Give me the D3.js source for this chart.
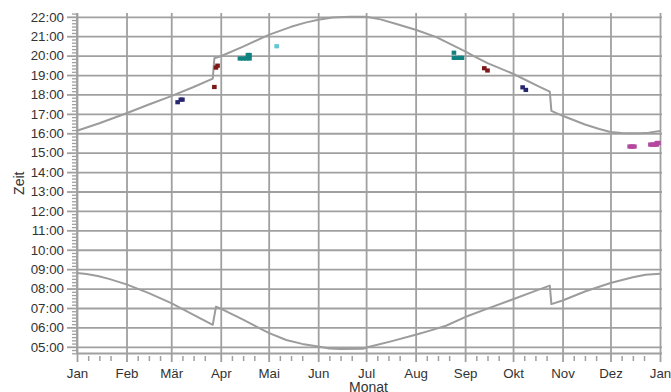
<!DOCTYPE html>
<html><head><meta charset="utf-8">
<script src="https://cdn.jsdelivr.net/npm/d3@7"></script>
<style>
body{margin:0;background:#fff;}
svg{display:block;}
text{font-family:"Liberation Sans",Arial,sans-serif;fill:#333;}
</style>
</head><body>
<svg id="chart" width="671" height="392"></svg>
<script>
// ---------- data ----------
const monthLabels = ["Jan","Feb","Mär","Apr","Mai","Jun","Jul","Aug","Sep","Okt","Nov","Dez","Jan"];
const hourTicks = [5,6,7,8,9,10,11,12,13,14,15,16,17,18,19,20,21,22];

const sunsetDates = ["2023-01-01","2023-01-15","2023-02-01","2023-02-15","2023-03-01","2023-03-15","2023-03-27","2023-03-28",
  "2023-04-01","2023-04-15","2023-05-01","2023-05-15","2023-05-24","2023-06-01","2023-06-10","2023-06-21","2023-07-01","2023-07-10",
  "2023-07-20","2023-08-01","2023-08-14","2023-09-01","2023-09-07","2023-09-15","2023-10-01","2023-10-17","2023-10-24",
  "2023-10-25","2023-11-01","2023-11-15","2023-11-24","2023-12-01","2023-12-08","2023-12-13","2023-12-20","2023-12-25","2024-01-01"];
const sunsetTimes = ["16:08","16:31","17:02","17:29","17:55","18:23","18:49","19:52",
  "19:58","20:28","21:04","21:29","21:42","21:51","21:58","22:00","22:00","21:52",
  "21:38","21:20","20:57","20:13","19:57","19:37","19:04","18:25","18:09",
  "17:09","16:54","16:27","16:13","16:04","16:01","16:00","16:00","16:02","16:07"];

const sunriseDates = ["2023-01-01","2023-01-07","2023-01-14","2023-01-21","2023-02-01","2023-02-15","2023-03-01","2023-03-15",
  "2023-03-27","2023-03-29","2023-04-01","2023-04-15","2023-05-01","2023-05-12","2023-05-22","2023-06-01","2023-06-08",
  "2023-06-15","2023-06-29","2023-07-03","2023-07-16","2023-08-01","2023-08-10","2023-08-20","2023-09-01","2023-09-15",
  "2023-10-01","2023-10-15","2023-10-24","2023-10-25","2023-11-01","2023-11-15","2023-12-01","2023-12-15","2023-12-23","2024-01-01"];
const sunriseTimes = ["08:48","08:45","08:39","08:30","08:13","07:46","07:15","06:39",
  "06:08","07:04","06:58","06:24","05:43","05:21","05:09","05:01","04:55",
  "04:53","04:54","05:00","05:16","05:37","05:50","06:05","06:32","06:58",
  "07:27","07:53","08:09","07:12","07:23","07:51","08:17","08:35","08:43","08:46"];

const navyDates = ["2023-03-05","2023-03-07","2023-03-08","2023-10-07","2023-10-09"];
const navyTimes = ["17:36","17:44","17:44","18:22","18:14"];
const redDates  = ["2023-03-28","2023-03-29","2023-03-30","2023-09-13","2023-09-15"];
const redTimes  = ["18:23","19:23","19:29","19:21","19:14"];
const tealDates = ["2023-04-13","2023-04-15","2023-04-17","2023-04-19","2023-04-18","2023-04-19",
                   "2023-08-25","2023-08-27","2023-08-29","2023-08-30","2023-08-25"];
const tealTimes = ["19:51","19:51","19:51","19:51","20:02","20:02",
                   "19:53","19:53","19:53","19:53","20:09"];
const lightBlueDates = ["2023-05-06"];
const lightBlueTimes = ["20:29"];
const magentaDates = ["2023-12-13","2023-12-14","2023-12-15","2023-12-16",
                      "2023-12-26","2023-12-27","2023-12-28","2023-12-29","2023-12-30","2023-12-30","2023-12-31"];
const magentaTimes = ["15:19","15:19","15:19","15:19",
                      "15:25","15:25","15:25","15:25","15:25","15:30","15:30"];

// ---------- helpers ----------
const parseDate = d3.timeParse("%Y-%m-%d");
const toHours = s => { const [h, m] = s.split(":").map(Number); return h + m / 60; };
const zip = (ds, ts) => ds.map((d, i) => ({date: parseDate(d), t: toHours(ts[i])}));

const svg = d3.select("#chart");
const gray = "#a0a0a0";
const sw = 1.8;

const x = d3.scaleTime().domain([new Date(2023,0,1), new Date(2024,0,1)]).range([77, 660]);
const y = d3.scaleLinear().domain([5, 22]).range([346.8, 16.8]);

const xAxisY = 353.5;
const yTop = y(22.2);
const gridRight = 662;

const monthStarts = d3.timeMonth.range(new Date(2023,0,1), new Date(2024,0,2));

// horizontal grid
svg.append("g").attr("transform", "translate(77,0)")
  .call(d3.axisLeft(y).tickValues(hourTicks).tickSize(-(gridRight - 77)).tickFormat(""))
  .call(g => g.select(".domain").remove())
  .call(g => g.selectAll("line").attr("stroke", gray).attr("stroke-width", sw));

// vertical grid (month lines, extending into the major ticks)
svg.append("g").attr("transform", `translate(0,${xAxisY})`)
  .call(d3.axisBottom(x).tickValues(monthStarts).tickSize(8.5).tickPadding(6.8)
        .tickFormat((d, i) => monthLabels[i]))
  .call(g => g.select(".domain").remove())
  .call(g => g.selectAll("line").attr("stroke", gray).attr("stroke-width", sw)
        .attr("y1", yTop - xAxisY))
  .call(g => g.selectAll("text").attr("font-size", 13.3).attr("fill", "#333")
        .attr("font-family", "Liberation Sans, Arial, sans-serif"));

// x minor ticks (8th, 15th, 22nd)
const minorDays = d3.timeDay.range(new Date(2023,0,1), new Date(2024,0,1))
  .filter(d => [8, 15, 22].includes(d.getDate()));
svg.append("g").attr("transform", `translate(0,${xAxisY + 2.5})`)
  .call(d3.axisBottom(x).tickValues(minorDays).tickSize(5).tickFormat(""))
  .call(g => g.select(".domain").remove())
  .call(g => g.selectAll("line").attr("stroke", gray).attr("stroke-width", 1.5));

// x axis line
svg.append("line").attr("x1", x.range()[0]).attr("x2", gridRight)
  .attr("y1", xAxisY).attr("y2", xAxisY).attr("stroke", gray).attr("stroke-width", sw);

// y minor ticks every 10 minutes
const minorTimes = d3.range(4 + 40/60, 22.2, 1/6).filter(v => Math.abs(v - Math.round(v)) > 0.01);
svg.append("g").attr("transform", "translate(77,0)")
  .call(d3.axisLeft(y).tickValues(minorTimes).tickSize(5).tickFormat(""))
  .call(g => g.select(".domain").remove())
  .call(g => g.selectAll("line").attr("stroke", gray).attr("stroke-width", 1.3));

// y major ticks + labels
svg.append("g").attr("transform", "translate(77,0)")
  .call(d3.axisLeft(y).tickValues(hourTicks).tickSize(10).tickPadding(3)
        .tickFormat(h => d3.format("02")(h) + ":00"))
  .call(g => g.select(".domain").remove())
  .call(g => g.selectAll("line").attr("stroke", gray).attr("stroke-width", sw))
  .call(g => g.selectAll("text").attr("font-size", 13.3).attr("fill", "#333")
        .attr("font-family", "Liberation Sans, Arial, sans-serif"));

// y axis line
svg.append("line").attr("x1", 77).attr("x2", 77)
  .attr("y1", yTop).attr("y2", xAxisY).attr("stroke", gray).attr("stroke-width", sw);

// curves
const line = d3.line().x(d => x(d.date)).y(d => y(d.t)).curve(d3.curveLinear);
[zip(sunsetDates, sunsetTimes), zip(sunriseDates, sunriseTimes)].forEach(data => {
  svg.append("path").datum(data).attr("d", line)
    .attr("fill", "none").attr("stroke", "#9c9c9c").attr("stroke-width", 2)
    .attr("stroke-linejoin", "round");
});

// markers
const groups = [
  {data: zip(navyDates, navyTimes), color: "#27276f"},
  {data: zip(redDates, redTimes), color: "#7e1717"},
  {data: zip(tealDates, tealTimes), color: "#118282"},
  {data: zip(lightBlueDates, lightBlueTimes), color: "#62c6d6"},
  {data: zip(magentaDates, magentaTimes), color: "#b4489e"}
];
const mw = 4.6, mh = 4.2;
groups.forEach(gr => {
  svg.append("g").selectAll("rect").data(gr.data).join("rect")
    .attr("x", d => x(d.date) - mw / 2).attr("y", d => y(d.t) - mh / 2)
    .attr("width", mw).attr("height", mh).attr("fill", gr.color);
});

// axis titles
svg.append("text").attr("transform", `translate(23.5,${(yTop + xAxisY) / 2}) rotate(-90)`)
  .attr("text-anchor", "middle").attr("font-size", 14).text("Zeit");
svg.append("text").attr("x", (x.range()[0] + x.range()[1]) / 2).attr("y", 391.5)
  .attr("text-anchor", "middle").attr("font-size", 14).text("Monat");
</script>
</body></html>
